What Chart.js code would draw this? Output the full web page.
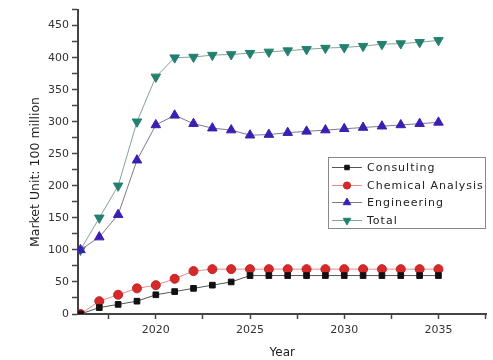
<!DOCTYPE html>
<html><head><meta charset="utf-8">
<script src="https://cdn.jsdelivr.net/npm/chart.js@4"></script>
<style>html,body{margin:0;padding:0;background:#fff}#c{display:block}</style>
</head><body>
<canvas id="c" width="493" height="360"></canvas>
<script>
const years = [2016,2017,2018,2019,2020,2021,2022,2023,2024,2025,2026,2027,2028,2029,2030,2031,2032,2033,2034,2035];
const consulting = [0,10,15,20,30,35,40,45,50,60,60,60,60,60,60,60,60,60,60,60];
const chemical = [0,20,30,40,45,55,67,70,70,70,70,70,70,70,70,70,70,70,70,70];
const engineering = [100,120,155,240,295,310,297,290,287,279,280,283,285,287,289,291,293,295,297,299];
const total = [100,150,200,300,370,400,401,404,405,407,409,411,413,415,416,418,421,422,424,427];
const seriesNames = ['Consulting','Chemical Analysis','Engineering','Total'];
const xTickValues = [2017.5,2020,2022.5,2025,2027.5,2030,2032.5,2035,2037.5];
const yTickValues = [0,25,50,75,100,125,150,175,200,225,250,275,300,325,350,375,400,425,450,475];
const yTitle = 'Market Unit: 100 million';

const pts = arr => arr.map((v,i)=>({x:years[i],y:v}));

const legendPlugin = {
  id:'boxLegend',
  afterDraw(chart){
    const ctx = chart.ctx;
    // y axis title
    ctx.save();
    ctx.translate(36,172);
    ctx.rotate(-Math.PI/2);
    ctx.fillStyle='#222';
    ctx.font='12.5px "DejaVu Sans", sans-serif';
    ctx.textAlign='center';ctx.textBaseline='middle';
    ctx.fillText(yTitle,0,0);
    ctx.restore();

    const x0=328,y0=157,x1=485,y1=228;
    ctx.save();
    ctx.strokeStyle='#888';ctx.lineWidth=1;
    ctx.strokeRect(x0+0.5,y0+0.5,x1-x0,y1-y0);
    const rows=[167,185,202,220];
    chart.data.datasets.forEach((ds,i)=>{
      const y=rows[i];
      ctx.strokeStyle=ds.borderColor;ctx.lineWidth=1;
      ctx.beginPath();ctx.moveTo(332,y+0.5);ctx.lineTo(362,y+0.5);ctx.stroke();
      ctx.fillStyle=ds.pointBackgroundColor;ctx.strokeStyle=ds.pointBorderColor;
      Chart.helpers.drawPoint(ctx,{pointStyle:ds.pointStyle,rotation:ds.rotation||0,radius:ds.pointRadius*0.8,borderWidth:1},347,y+0.5);
      ctx.fillStyle='#222';
      ctx.font='11px "DejaVu Sans", sans-serif';
      ctx.letterSpacing='1px';
      ctx.textBaseline='middle';ctx.textAlign='left';
      ctx.fillText(ds.label,367,y+1);
    });
    ctx.restore();
  }
};

new Chart(document.getElementById('c'),{
  type:'line',
  data:{datasets:[
    {label:seriesNames[0],data:pts(consulting),borderColor:'#555',borderWidth:1,pointStyle:'rect',pointRadius:4,pointBackgroundColor:'#111',pointBorderColor:'#111',pointBorderWidth:1,rotation:0},
    {label:seriesNames[1],data:pts(chemical),borderColor:'#e88a8a',borderWidth:1,pointStyle:'circle',pointRadius:4.5,pointBackgroundColor:'#d42a2a',pointBorderColor:'#c52222',pointBorderWidth:1},
    {label:seriesNames[2],data:pts(engineering),borderColor:'#7a7890',borderWidth:1,pointStyle:'triangle',pointRadius:5.5,pointBackgroundColor:'#3a1fb0',pointBorderColor:'#3a1fb0',pointBorderWidth:1},
    {label:seriesNames[3],data:pts(total),borderColor:'#86a09a',borderWidth:1,pointStyle:'triangle',rotation:180,pointRotation:180,pointRadius:5.5,pointBackgroundColor:'#23806e',pointBorderColor:'#23806e',pointBorderWidth:1}
  ]},
  options:{
    responsive:false,animation:false,
    layout:{padding:{top:9,right:6,left:0,bottom:0}},
    plugins:{legend:{display:false},tooltip:{enabled:false}},
    elements:{line:{tension:0}},
    scales:{
      x:{type:'linear',min:2015.87,max:2037.55,
        afterBuildTicks(s){s.ticks=xTickValues.map(v=>({value:v}));},
        afterFit(s){s.height=46;},
        border:{color:'#444',width:2},
        grid:{drawOnChartArea:false,drawTicks:true,tickLength:5,tickColor:'#444',tickWidth:1.5},
        ticks:{padding:5,color:'#333',font:{size:11,family:'"DejaVu Sans", sans-serif'},autoSkip:false,maxRotation:0,
          callback:v=>(v%5===0&&v<=2035)?String(v):''},
        title:{display:true,text:'Year',color:'#222',font:{size:12,family:'"DejaVu Sans", sans-serif'},padding:{top:2,bottom:0}}
      },
      y:{min:0,max:475,
        afterBuildTicks(s){s.ticks=yTickValues.map(v=>({value:v}));},
        afterFit(s){s.width=78;},
        border:{color:'#444',width:2},
        grid:{drawOnChartArea:false,drawTicks:true,tickLength:6,tickColor:'#444',tickWidth:1.5},
        ticks:{padding:3,color:'#333',font:{size:11,family:'"DejaVu Sans", sans-serif'},autoSkip:false,
          callback:v=>(v%50===0)?String(v):''},
        title:{display:false}
      }
    }
  },
  plugins:[legendPlugin]
});
</script>
</body></html>
